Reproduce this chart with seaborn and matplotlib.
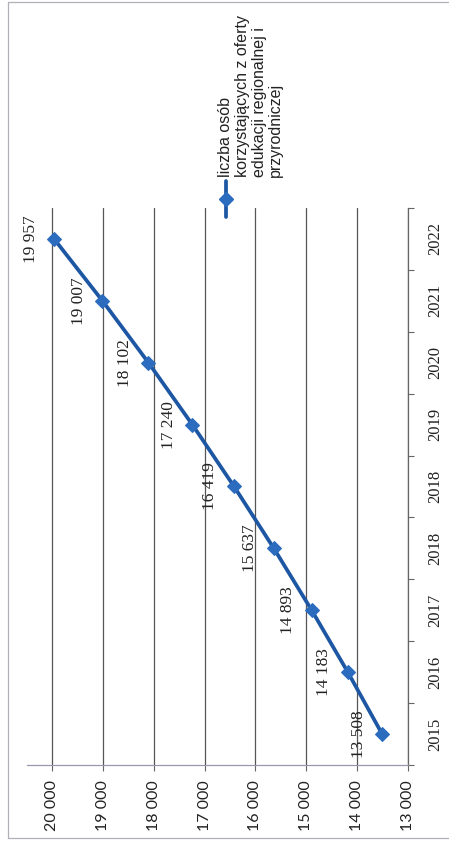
import numpy as np
import pandas as pd
import matplotlib
matplotlib.use("Agg")
import matplotlib.pyplot as plt
from matplotlib.lines import Line2D
from matplotlib.ticker import FixedLocator
import seaborn as sns

# ---- data ----
years = ["2015", "2016", "2017", "2018", "2018", "2019", "2020", "2021", "2022"]
values = [13508, 14183, 14893, 15637, 16419, 17240, 18102, 19007, 19957]
value_ticks = [13000, 14000, 15000, 16000, 17000, 18000, 19000, 20000]
value_tick_labels = ["13 000", "14 000", "15 000", "16 000", "17 000", "18 000", "19 000", "20 000"]
legend_label = "liczba osób\nkorzystających z oferty\nedukacji regionalnej i\nprzyrodniczej"

sns.set_theme(style="white")
plt.rcParams["font.family"] = ["Liberation Serif", "DejaVu Sans"]

W, H = 449, 847
fig = plt.figure(figsize=(W / 100, H / 100), dpi=100)
fig.patch.set_facecolor("white")

def fx(px):
    return px / W

def fy(py):
    return 1 - py / H

# axes area in pixel coords: x 27..408, y 208..765
ax = fig.add_axes([fx(27), fy(765), fx(408) - fx(27), fy(208) - fy(765)])
ax.set_facecolor("white")

pos = np.arange(len(years))
df = pd.DataFrame({"value": values, "pos": pos})
line_color = "#1d57a3"
marker_color = "#2b6cbf"
sns.lineplot(data=df, x="value", y="pos", orient="y", sort=False, ax=ax,
             color=line_color, linewidth=2.7, marker="D", markersize=7,
             markeredgecolor=marker_color, markerfacecolor=marker_color)

ax.set_xlim(20490, 13000)
ax.set_ylim(-0.5, len(years) - 0.5)

# value axis (bottom in image)
ax.set_xticks(value_ticks)
ax.set_xticklabels(value_tick_labels, rotation=90, fontfamily="Lato",
                   fontsize=11.5, color="#222222")
ax.tick_params(axis="x", direction="out", length=4, width=0.8,
               color="#666666", pad=7, bottom=True)
ax.xaxis.grid(True, color="#555555", linewidth=0.9)
ax.yaxis.grid(False)

# category axis (right side in image)
ax.yaxis.tick_right()
ax.set_yticks(pos)
ax.set_yticklabels(years, rotation=90, fontfamily="Liberation Serif",
                   fontsize=12, color="#222222", va="center")
ax.yaxis.set_minor_locator(FixedLocator(np.arange(-0.5, len(years), 1.0)))
ax.tick_params(axis="y", which="major", length=0, pad=14, right=True, left=False)
ax.tick_params(axis="y", which="minor", length=4, width=0.8, color="#666666",
               direction="out", right=True, left=False)
ax.set_xlabel("")
ax.set_ylabel("")

for side in ["left", "top"]:
    ax.spines[side].set_visible(False)
ax.spines["right"].set_color("#666666")
ax.spines["right"].set_linewidth(0.9)
ax.spines["bottom"].set_color("#9a98b0")
ax.spines["bottom"].set_linewidth(0.9)

# data labels
for v, p in zip(values, pos):
    txt = f"{v:,}".replace(",", " ")
    ax.annotate(txt, (v, p), xytext=(-17, 0), textcoords="offset points",
                rotation=90, ha="center", va="center", fontsize=12.5,
                fontfamily="Liberation Serif", color="#222222")

# legend (manual, rotated)
fig.add_artist(Line2D([fx(226), fx(226)], [fy(181), fy(217)], color=line_color,
                      linewidth=2.7, transform=fig.transFigure))
fig.add_artist(Line2D([fx(226)], [fy(199)], marker="D", markersize=7,
                      color=marker_color, linestyle="none", transform=fig.transFigure))
fig.text(fx(218), fy(177), legend_label, rotation=90, ha="left", va="bottom",
         multialignment="left", fontsize=11.5, fontfamily="Liberation Sans",
         color="#222222", linespacing=1.15)

# outer chart border
fig.add_artist(Line2D([fx(8), fx(8)], [fy(2), fy(838)], color="#b0b0b8",
                      linewidth=0.9, transform=fig.transFigure))
fig.add_artist(Line2D([fx(8), fx(449)], [fy(838), fy(838)], color="#b0b0b8",
                      linewidth=0.9, transform=fig.transFigure))
fig.add_artist(Line2D([fx(8), fx(449)], [fy(2), fy(2)], color="#b0b0b8",
                      linewidth=0.9, transform=fig.transFigure))

fig.savefig("out.png", dpi=100, facecolor="white")
